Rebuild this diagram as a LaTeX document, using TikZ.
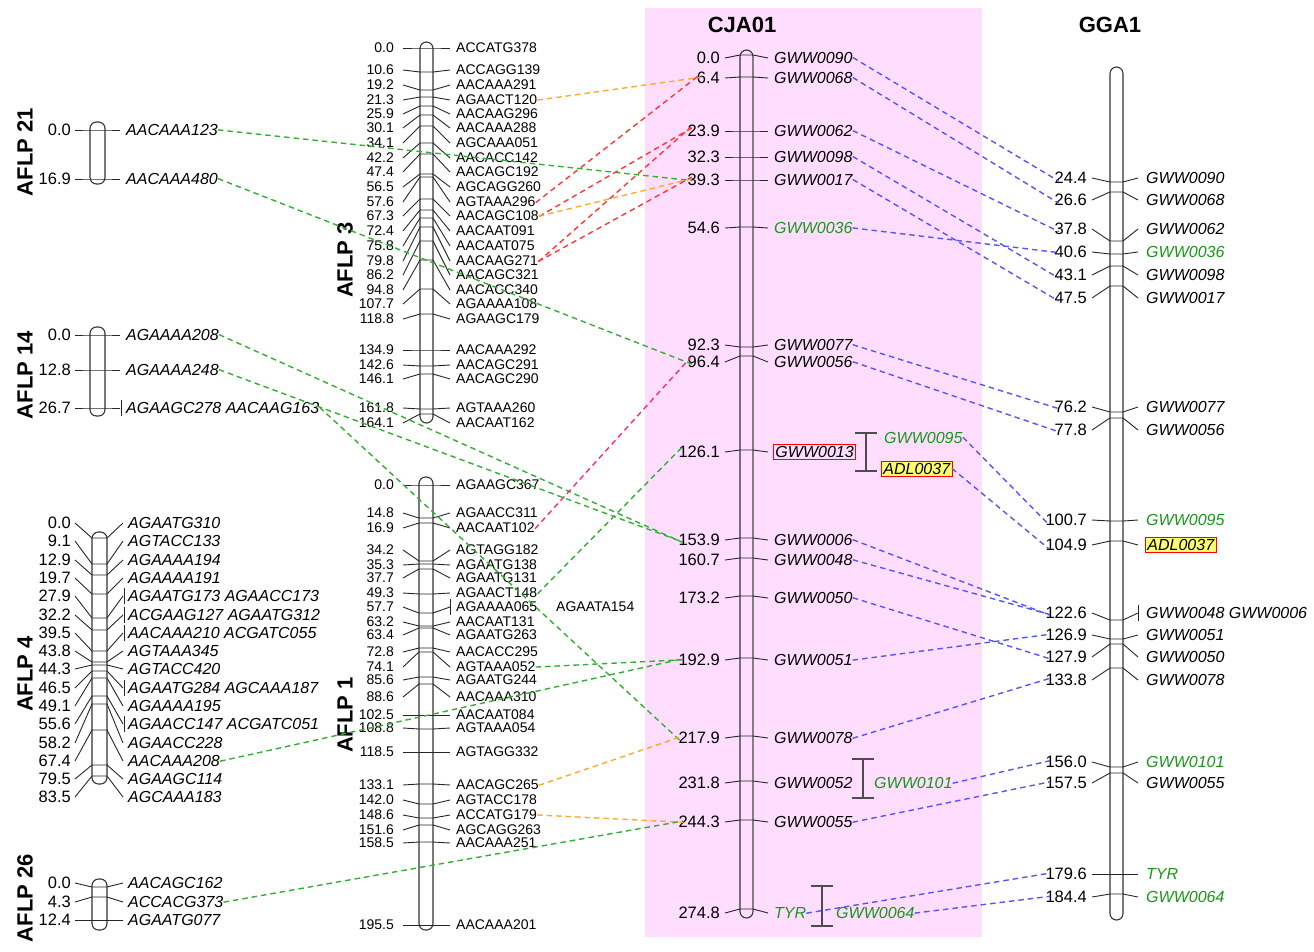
\documentclass[tikz,border=0pt]{standalone}
\usepackage{fontspec}
\setmainfont{Liberation Sans}
\definecolor{bgpink}{RGB}{255,221,255}
\definecolor{lgreen}{RGB}{50,175,50}
\definecolor{lblue}{RGB}{85,85,250}
\definecolor{lred}{RGB}{255,55,55}
\definecolor{lorange}{RGB}{255,170,40}
\definecolor{lpink}{RGB}{255,45,110}
\definecolor{tgreen}{RGB}{25,150,25}
\definecolor{adl}{RGB}{255,255,110}
\newcommand\fnumA{\fontsize{16.5}{18}\selectfont}
\newcommand\fnameA{\fontsize{16}{18}\selectfont\itshape}
\newcommand\fsmA{\fontsize{14}{16}\selectfont}
\newcommand\ftitle{\fontsize{22}{24}\selectfont\bfseries}
\newcommand\fnum{\fnumA}
\newcommand\fname{\fnameA}
\newcommand\CP{}
\newcommand\XN{}\newcommand\XTL{}\newcommand\XCL{}\newcommand\XCR{}\newcommand\XTR{}\newcommand\XM{}
\newcommand\setchr[7]{\def\CP{#1}\def\XN{#2}\def\XTL{#3}\def\XCL{#4}\def\XCR{#5}\def\XTR{#6}\def\XM{#7}}
\newcommand\mk[6][]{%
  \draw[tk] (\XTL,#4) -- (\XCL,#3) -- (\XCR,#3) -- (\XTR,#4);
  \node[numl] (\CP n#2) at (\XN,#4) {#5};
  \node[naml,#1] (\CP m#2) at (\XM,#4) {#6};
}
\newcommand\mbar[2]{\draw[tk] (#1,#2-8) -- (#1,#2+8);}
\begin{document}
\begin{tikzpicture}[x=1pt,y=-1pt,
 chr/.style={draw=black!80,line width=1.1pt,rounded corners=6.5pt},
 tk/.style={draw=black!85,line width=0.9pt},
 numl/.style={anchor=east,inner sep=1pt,font=\fnum},
 naml/.style={anchor=west,inner sep=1pt,font=\fname},
 ttl/.style={font=\ftitle,inner sep=0pt},
 gtxt/.style={text=tgreen},
 rbox/.style={draw=red,line width=0.9pt,inner sep=2pt},
 ybox/.style={draw=red,fill=adl,line width=0.9pt,inner sep=2pt},
 brk/.style={draw=black!70,line width=1.2pt},
 con/.style={line width=1.4pt,dash pattern=on 5.5pt off 4pt,shorten >=-6pt,shorten <=-1pt},
 gl/.style={con,draw=lgreen},
 bl/.style={con,draw=lblue},
 rl/.style={con,draw=lred},
 ol/.style={con,draw=lorange},
 pl/.style={con,draw=lpink}]
\useasboundingbox (0,0) rectangle (1314,951);
\fill[bgpink] (645,8) rectangle (982,937);

% titles
\node[ttl] (tCJA) at (742,25) {CJA01};
\node[ttl] (tGGA) at (1110,25) {GGA1};
\node[ttl,rotate=90] (t21) at (25,152) {AFLP 21};
\node[ttl,rotate=90] (t14) at (25,375) {AFLP 14};
\node[ttl,rotate=90] (t4) at (25,674) {AFLP 4};
\node[ttl,rotate=90] (t26) at (25,898) {AFLP 26};
\node[ttl,rotate=90] (t3) at (345,260) {AFLP 3};
\node[ttl,rotate=90] (t1) at (345,715) {AFLP 1};

% chromosomes
\draw[chr] (90,122) rectangle (105,184);
\draw[chr] (90,327) rectangle (105,416);
\draw[chr] (92,532) rectangle (107,784);
\draw[chr] (92,879) rectangle (107,930);
\draw[chr] (420,42) rectangle (433,423);
\draw[chr] (419,477) rectangle (433,930);
\draw[chr] (740,50) rectangle (753,918);
\draw[black!50,line width=2.4pt] (753,57) -- (753,911);
\draw[chr] (1110,67) rectangle (1123,920);

% AFLP 21
\setchr{aa}{72}{75}{90}{105}{120}{125}
\mk{1}{130}{130}{0.0}{AACAAA123}
\mk{2}{179}{179}{16.9}{AACAAA480}

% AFLP 14
\setchr{ab}{72}{75}{90}{105}{120}{125}
\mk{1}{335}{335}{0.0}{AGAAAA208}
\mk{2}{370}{370}{12.8}{AGAAAA248}
\mk{3}{408}{408}{26.7}{AGAAGC278 AACAAG163}
\mbar{121}{408}

% AFLP 4
\setchr{ac}{72}{75}{92}{107}{123}{127}
\mk{1}{538}{523}{0.0}{AGAATG310}
\mk{2}{564}{541}{9.1}{AGTACC133}
\mk{3}{575}{560}{12.9}{AGAAAA194}
\mk{4}{594}{578}{19.7}{AGAAAA191}
\mk{5}{618}{596}{27.9}{AGAATG173 AGAACC173}
\mk{6}{630}{615}{32.2}{ACGAAG127 AGAATG312}
\mk{7}{651}{633}{39.5}{AACAAA210 ACGATC055}
\mk{8}{662}{651}{43.8}{AGTAAA345}
\mk{9}{665}{669}{44.3}{AGTACC420}
\mk{10}{671}{688}{46.5}{AGAATG284 AGCAAA187}
\mk{11}{678}{706}{49.1}{AGAAAA195}
\mk{12}{696}{724}{55.6}{AGAACC147 ACGATC051}
\mk{13}{704}{743}{58.2}{AGAACC228}
\mk{14}{730}{761}{67.4}{AACAAA208}
\mk{15}{765}{779}{79.5}{AGAAGC114}
\mk{16}{776}{797}{83.5}{AGCAAA183}
\mbar{124}{596}\mbar{124}{615}\mbar{124}{633}\mbar{124}{688}\mbar{124}{724}

% AFLP 26
\setchr{ad}{72}{75}{92}{107}{123}{127}
\mk{1}{887}{883}{0.0}{AACAGC162}
\mk{2}{897}{902}{4.3}{ACCACG373}
\mk{3}{920}{920}{12.4}{AGAATG077}

% AFLP 3 and AFLP 1 (upright, smaller)
\let\fnum\fsmA
\let\fname\fsmA
\setchr{ae}{395}{403}{420}{433}{450}{455}
\mk{1}{48}{48}{0.0}{ACCATG378}
\mk{2}{72}{70}{10.6}{ACCAGG139}
\mk{3}{90}{85}{19.2}{AACAAA291}
\mk{4}{97}{100}{21.3}{AGAACT120}
\mk{5}{106}{114}{25.9}{AACAAG296}
\mk{6}{115}{128}{30.1}{AACAAA288}
\mk{7}{126}{143}{34.1}{AGCAAA051}
\mk{8}{143}{158}{42.2}{AACACC142}
\mk{9}{154}{172}{47.4}{AACAGC192}
\mk{10}{174}{187}{56.5}{AGCAGG260}
\mk{11}{177}{202}{57.6}{AGTAAA296}
\mk{12}{199}{216}{67.3}{AACAGC108}
\mk{13}{210}{231}{72.4}{AACAAT091}
\mk{14}{218}{246}{75.8}{AACAAT075}
\mk{15}{227}{261}{79.8}{AACAAG271}
\mk{16}{241}{275}{86.2}{AACAGC321}
\mk{17}{260}{290}{94.8}{AACACC340}
\mk{18}{289}{304}{107.7}{AGAAAA108}
\mk{19}{314}{319}{118.8}{AGAAGC179}
\mk{20}{350}{350}{134.9}{AACAAA292}
\mk{21}{366}{365}{142.6}{AACAGC291}
\mk{22}{374}{379}{146.1}{AACAGC290}
\mk{23}{409}{408}{161.8}{AGTAAA260}
\mk{24}{414}{423}{164.1}{AACAAT162}

\setchr{af}{395}{403}{419}{433}{450}{455}
\mk{1}{485}{485}{0.0}{AGAAGC367}
\mk{2}{518}{513}{14.8}{AGAACC311}
\mk{3}{523}{528}{16.9}{AACAAT102}
\mk{4}{561}{550}{34.2}{AGTAGG182}
\mk{5}{564}{565}{35.3}{AGAATG138}
\mk{6}{569}{578}{37.7}{AGAATG131}
\mk{7}{594}{593}{49.3}{AGAACT148}
\mk{8}{613}{607}{57.7}{AGAAAA065}
\mk{9}{626}{622}{63.2}{AACAAT131}
\mk{10}{628}{635}{63.4}{AGAATG263}
\mk{11}{648}{652}{72.8}{AACACC295}
\mk{12}{652}{667}{74.1}{AGTAAA052}
\mk{13}{677}{680}{85.6}{AGAATG244}
\mk{14}{684}{697}{88.6}{AACAAA310}
\mk{15}{715}{715}{102.5}{AACAAT084}
\mk{16}{729}{728}{108.8}{AGTAAA054}
\mk{17}{752}{752}{118.5}{AGTAGG332}
\mk{18}{784}{785}{133.1}{AACAGC265}
\mk{19}{804}{800}{142.0}{AGTACC178}
\mk{20}{818}{815}{148.6}{ACCATG179}
\mk{21}{825}{830}{151.6}{AGCAGG263}
\mk{22}{842}{843}{158.5}{AACAAA251}
\mk{23}{925}{925}{195.5}{AACAAA201}
\mbar{450}{607}
\node[naml] (afx) at (555,607) {AGAATA154};

% CJA01
\let\fnum\fnumA
\let\fname\fnameA
\setchr{c}{721}{725}{740}{753}{768}{773}
\mk{1}{55}{58}{0.0}{GWW0090}
\mk{2}{77}{78}{6.4}{GWW0068}
\mk{3}{131}{131}{23.9}{GWW0062}
\mk{4}{157}{157}{32.3}{GWW0098}
\mk{5}{180}{180}{39.3}{GWW0017}
\mk[gtxt]{6}{227}{228}{54.6}{GWW0036}
\mk{7}{347}{345}{92.3}{GWW0077}
\mk{8}{356}{362}{96.4}{GWW0056}
\mk[rbox]{9}{450}{452}{126.1}{GWW0013}
\mk{10}{538}{540}{153.9}{GWW0006}
\mk{11}{558}{560}{160.7}{GWW0048}
\mk{12}{596}{598}{173.2}{GWW0050}
\mk{13}{658}{660}{192.9}{GWW0051}
\mk{14}{736}{738}{217.9}{GWW0078}
\mk{15}{781}{783}{231.8}{GWW0052}
\mk{16}{820}{822}{244.3}{GWW0055}
\mk[gtxt]{17}{909}{913}{274.8}{TYR}
\node[naml,gtxt] (cx1) at (883,438) {GWW0095};
\node[naml,ybox] (cx2) at (881,469) {ADL0037};
\node[naml,gtxt] (cx3) at (873,783) {GWW0101};
\node[naml,gtxt] (cx4) at (835,913) {GWW0064};
\draw[brk] (855,433) -- (877,433) (866,433) -- (866,471) (855,471) -- (877,471);
\draw[brk] (852,759) -- (874,759) (863,759) -- (863,798) (852,798) -- (874,798);
\draw[brk] (811,886) -- (833,886) (822,886) -- (822,926) (811,926) -- (833,926);

% GGA1
\setchr{g}{1088}{1092}{1110}{1123}{1138}{1145}
\mk{1}{182}{178}{24.4}{GWW0090}
\mk{2}{192}{200}{26.6}{GWW0068}
\mk{3}{241}{229}{37.8}{GWW0062}
\mk[gtxt]{4}{254}{252}{40.6}{GWW0036}
\mk{5}{266}{275}{43.1}{GWW0098}
\mk{6}{286}{298}{47.5}{GWW0017}
\mk{7}{412}{407}{76.2}{GWW0077}
\mk{8}{418}{430}{77.8}{GWW0056}
\mk[gtxt]{9}{521}{520}{100.7}{GWW0095}
\mk[ybox]{10}{541}{545}{104.9}{ADL0037}
\mk{11}{620}{613}{122.6}{GWW0048 GWW0006}
\mk{12}{639}{635}{126.9}{GWW0051}
\mk{13}{644}{657}{127.9}{GWW0050}
\mk{14}{668}{680}{133.8}{GWW0078}
\mk[gtxt]{15}{767}{762}{156.0}{GWW0101}
\mk{16}{773}{783}{157.5}{GWW0055}
\mk[gtxt]{17}{874}{874}{179.6}{TYR}
\mk[gtxt]{18}{894}{897}{184.4}{GWW0064}
\mbar{1138}{613}

% AFLP -> CJA01 connectors
\draw[gl] (aam1.east) -- (cn5.west);
\draw[gl] (aam2.east) -- (cn8.west);
\draw[ol] (aem4.east) -- (cn2.west);
\draw[rl] (aem11.east) -- (cn2.west);
\draw[rl] (aem12.east) -- (cn3.west);
\draw[ol] (aem12.east) -- (cn5.west);
\draw[rl] (aem15.east) -- (cn3.west);
\draw[rl] (aem15.east) -- (cn5.west);
\draw[gl] (abm1.east) -- (cn10.west);
\draw[gl] (abm2.east) -- (cn10.west);
\draw[gl] (abm3.east) -- (cn14.west);
\draw[pl] (afm3.east) -- (cn8.west);
\draw[gl] (afm7.east) -- (cn9.west);
\draw[gl] (afm12.east) -- (cn13.west);
\draw[gl] (acm14.east) -- (cn13.west);
\draw[ol] (afm18.east) -- (cn14.west);
\draw[ol] (afm20.east) -- (cn16.west);
\draw[gl] (adm2.east) -- (cn16.west);

% CJA01 -> GGA1 connectors
\draw[bl] (cm1.east) -- (gn1.west);
\draw[bl] (cm2.east) -- (gn2.west);
\draw[bl] (cm3.east) -- (gn3.west);
\draw[bl] (cm4.east) -- (gn5.west);
\draw[bl] (cm5.east) -- (gn6.west);
\draw[bl] (cm6.east) -- (gn4.west);
\draw[bl] (cm7.east) -- (gn7.west);
\draw[bl] (cm8.east) -- (gn8.west);
\draw[bl] (cx1.east) -- (gn9.west);
\draw[bl] (cx2.east) -- (gn10.west);
\draw[bl] (cm10.east) -- (gn11.west);
\draw[bl] (cm11.east) -- (gn11.west);
\draw[bl] (cm12.east) -- (gn13.west);
\draw[bl] (cm13.east) -- (gn12.west);
\draw[bl] (cm14.east) -- (gn14.west);
\draw[bl] (cx3.east) -- (gn15.west);
\draw[bl] (cm16.east) -- (gn16.west);
\draw[bl] (cm17.east) -- (gn17.west);
\draw[bl] (cx4.east) -- (gn18.west);
\end{tikzpicture}
\end{document}
